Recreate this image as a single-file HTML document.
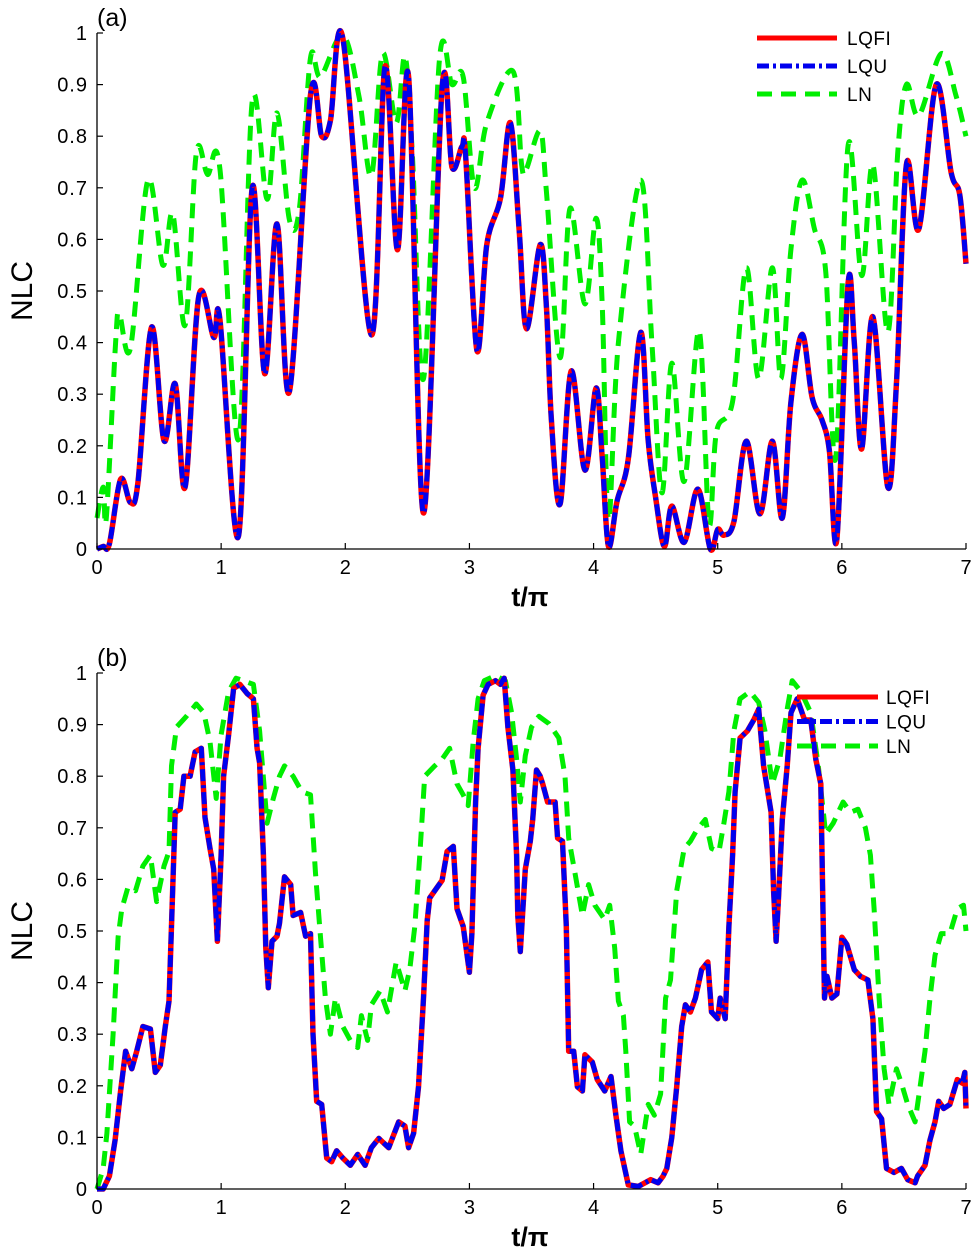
<!DOCTYPE html>
<html><head><meta charset="utf-8">
<style>
body{margin:0;background:#fff;}
svg{display:block;font-family:"Liberation Sans",Arial,sans-serif;}
</style></head>
<body>
<svg id="fig" width="974" height="1257" viewBox="0 0 974 1257" xmlns="http://www.w3.org/2000/svg"></svg>
<script>
// ---- Panel (a) data ----
const tA_q = [0,0.05,0.1,0.19,0.27,0.33,0.44,0.54,0.63,0.71,0.82,0.94,0.99,1.14,1.25,1.35,1.45,1.55,1.72,1.81,1.88,1.98,2.21,2.32,2.42,2.51,2.63,2.78,2.86,2.94,2.97,3.06,3.14,3.25,3.33,3.40,3.46,3.57,3.62,3.66,3.73,3.82,3.93,4.02,4.07,4.12,4.19,4.28,4.38,4.44,4.50,4.57,4.63,4.73,4.84,4.94,5.0,5.05,5.13,5.23,5.34,5.44,5.52,5.59,5.68,5.76,5.84,5.90,5.96,6.05,6.10,6.16,6.25,6.37,6.44,6.52,6.62,6.76,6.88,6.95,7.0];
const lqfiA = [0,0.005,0.01,0.135,0.09,0.13,0.43,0.21,0.32,0.12,0.49,0.41,0.445,0.025,0.70,0.34,0.63,0.305,0.88,0.80,0.83,0.99,0.415,0.935,0.58,0.915,0.07,0.895,0.74,0.78,0.76,0.385,0.59,0.68,0.826,0.62,0.427,0.59,0.47,0.25,0.087,0.345,0.153,0.312,0.175,0.005,0.094,0.175,0.42,0.21,0.10,0.005,0.083,0.013,0.116,0.0,0.038,0.027,0.053,0.209,0.068,0.209,0.06,0.286,0.416,0.294,0.25,0.19,0.02,0.515,0.40,0.194,0.45,0.12,0.323,0.745,0.62,0.90,0.73,0.686,0.553];
const tA_n = [0,0.05,0.075,0.15,0.18,0.27,0.41,0.53,0.61,0.71,0.80,0.89,0.99,1.14,1.25,1.37,1.45,1.55,1.63,1.72,1.80,1.98,2.11,2.21,2.30,2.41,2.48,2.54,2.63,2.76,2.86,2.95,3.04,3.14,3.35,3.42,3.46,3.57,3.62,3.73,3.81,3.93,4.02,4.07,4.12,4.20,4.38,4.47,4.55,4.63,4.73,4.85,4.93,4.99,5.12,5.23,5.33,5.44,5.51,5.59,5.68,5.78,5.87,5.95,6.05,6.16,6.25,6.37,6.45,6.52,6.62,6.80,6.92,7.0];
const lnA = [0.06,0.12,0.06,0.40,0.456,0.39,0.715,0.55,0.65,0.434,0.767,0.726,0.737,0.212,0.867,0.678,0.845,0.638,0.66,0.952,0.915,0.996,0.878,0.723,0.96,0.826,0.955,0.767,0.33,0.952,0.90,0.915,0.70,0.826,0.926,0.745,0.737,0.81,0.693,0.371,0.66,0.475,0.641,0.47,0.057,0.40,0.715,0.40,0.109,0.36,0.131,0.423,0.05,0.227,0.286,0.545,0.33,0.545,0.33,0.582,0.715,0.62,0.538,0.175,0.782,0.53,0.745,0.42,0.767,0.90,0.84,0.96,0.878,0.80];
// ---- Panel (b) data ----
const tB_q = [0,0.05,0.10,0.146,0.19,0.23,0.28,0.32,0.37,0.43,0.47,0.51,0.55,0.58,0.60,0.63,0.67,0.70,0.75,0.79,0.84,0.87,0.91,0.94,0.97,1.00,1.02,1.06,1.10,1.15,1.21,1.26,1.29,1.31,1.34,1.36,1.38,1.41,1.45,1.47,1.51,1.56,1.58,1.64,1.68,1.72,1.74,1.77,1.81,1.85,1.89,1.93,1.98,2.04,2.10,2.16,2.21,2.27,2.35,2.43,2.48,2.51,2.55,2.59,2.63,2.66,2.68,2.72,2.78,2.82,2.87,2.90,2.95,3.00,3.02,3.05,3.07,3.11,3.15,3.21,3.25,3.28,3.31,3.35,3.38,3.39,3.41,3.45,3.49,3.51,3.54,3.57,3.59,3.63,3.69,3.71,3.75,3.78,3.80,3.84,3.87,3.91,3.93,3.99,4.03,4.09,4.14,4.18,4.22,4.28,4.36,4.46,4.52,4.56,4.59,4.63,4.67,4.71,4.74,4.78,4.82,4.87,4.92,4.95,5.00,5.02,5.06,5.09,5.12,5.14,5.18,5.24,5.29,5.33,5.37,5.43,5.45,5.47,5.49,5.52,5.56,5.59,5.64,5.70,5.75,5.79,5.83,5.86,5.88,5.92,5.96,6.00,6.04,6.10,6.15,6.21,6.25,6.28,6.32,6.36,6.42,6.48,6.53,6.59,6.61,6.67,6.71,6.75,6.78,6.82,6.87,6.93,6.97,6.99,7.0];
const lqfiB = [0,0,0.025,0.095,0.19,0.267,0.233,0.267,0.315,0.31,0.226,0.24,0.315,0.364,0.51,0.73,0.736,0.80,0.80,0.847,0.854,0.72,0.66,0.62,0.48,0.647,0.80,0.88,0.97,0.978,0.96,0.95,0.854,0.826,0.647,0.467,0.39,0.48,0.49,0.515,0.605,0.59,0.53,0.536,0.49,0.495,0.30,0.17,0.164,0.06,0.053,0.074,0.06,0.046,0.067,0.046,0.08,0.098,0.08,0.13,0.122,0.08,0.108,0.198,0.37,0.52,0.564,0.578,0.598,0.654,0.664,0.543,0.509,0.42,0.495,0.75,0.854,0.957,0.978,0.985,0.978,0.99,0.895,0.812,0.647,0.53,0.46,0.62,0.674,0.716,0.812,0.80,0.785,0.75,0.75,0.68,0.674,0.509,0.267,0.267,0.198,0.19,0.26,0.246,0.212,0.19,0.218,0.143,0.074,0.008,0.005,0.018,0.012,0.025,0.04,0.10,0.198,0.315,0.357,0.343,0.37,0.425,0.44,0.343,0.33,0.37,0.33,0.509,0.647,0.77,0.874,0.888,0.909,0.93,0.82,0.73,0.578,0.48,0.564,0.716,0.82,0.923,0.95,0.909,0.909,0.833,0.785,0.37,0.412,0.37,0.378,0.488,0.474,0.425,0.412,0.405,0.33,0.15,0.136,0.04,0.032,0.04,0.018,0.012,0.025,0.046,0.095,0.13,0.17,0.156,0.164,0.212,0.205,0.226,0.156];
const tB_n = [0,0.05,0.08,0.13,0.17,0.20,0.25,0.31,0.37,0.43,0.48,0.54,0.58,0.60,0.64,0.72,0.80,0.86,0.91,0.96,1.00,1.06,1.12,1.18,1.26,1.31,1.37,1.42,1.47,1.51,1.58,1.65,1.72,1.76,1.80,1.84,1.88,1.92,1.98,2.04,2.10,2.13,2.18,2.21,2.28,2.34,2.41,2.48,2.52,2.56,2.60,2.64,2.72,2.78,2.84,2.90,2.95,2.99,3.03,3.07,3.12,3.21,3.29,3.34,3.38,3.41,3.45,3.50,3.56,3.64,3.72,3.77,3.80,3.85,3.91,3.96,4.01,4.09,4.13,4.17,4.20,4.24,4.26,4.29,4.33,4.38,4.44,4.49,4.54,4.58,4.62,4.67,4.73,4.78,4.83,4.90,4.95,5.01,5.05,5.09,5.13,5.18,5.26,5.33,5.38,5.44,5.50,5.56,5.60,5.67,5.75,5.81,5.87,5.93,6.01,6.07,6.13,6.19,6.23,6.26,6.30,6.34,6.38,6.44,6.48,6.53,6.59,6.63,6.67,6.71,6.75,6.80,6.87,6.93,6.98,7.0];
const lnB = [0,0.04,0.108,0.30,0.488,0.543,0.585,0.578,0.626,0.647,0.557,0.626,0.654,0.82,0.895,0.916,0.94,0.923,0.867,0.757,0.88,0.964,0.99,0.985,0.978,0.888,0.709,0.757,0.80,0.82,0.80,0.77,0.764,0.612,0.488,0.37,0.30,0.37,0.315,0.288,0.274,0.336,0.288,0.357,0.384,0.343,0.44,0.384,0.426,0.509,0.647,0.80,0.82,0.833,0.854,0.785,0.764,0.743,0.867,0.95,0.985,0.995,0.985,0.923,0.833,0.75,0.84,0.895,0.916,0.902,0.874,0.80,0.68,0.612,0.53,0.59,0.55,0.522,0.55,0.467,0.364,0.336,0.267,0.13,0.122,0.067,0.164,0.143,0.184,0.37,0.405,0.578,0.66,0.674,0.695,0.716,0.66,0.654,0.709,0.77,0.888,0.95,0.964,0.943,0.888,0.785,0.833,0.93,0.985,0.964,0.923,0.82,0.688,0.709,0.75,0.73,0.736,0.70,0.647,0.543,0.37,0.233,0.164,0.233,0.205,0.164,0.13,0.198,0.267,0.37,0.453,0.495,0.495,0.543,0.55,0.50];
const yTicks = [0,0.1,0.2,0.3,0.4,0.5,0.6,0.7,0.8,0.9,1];
const yTickLabels = ["0","0.1","0.2","0.3","0.4","0.5","0.6","0.7","0.8","0.9","1"];
const xTicks = [0,1,2,3,4,5,6,7];
const seriesNames = ["LQFI","LQU","LN"];

const NS="http://www.w3.org/2000/svg";
const svg=document.getElementById('fig');
function mk(tag,attrs,parent){const e=document.createElementNS(NS,tag);for(const k in attrs)e.setAttribute(k,attrs[k]);(parent||svg).appendChild(e);return e;}
const X0=97,X1=966;
function xs(t){return X0+(t/7)*(X1-X0);}
function smoothPath(ts,vs,ys){
  const p=ts.map((t,i)=>[xs(t),ys(vs[i])]);
  let d='M'+p[0][0].toFixed(1)+','+p[0][1].toFixed(1);
  for(let i=0;i<p.length-1;i++){
    const p0=p[Math.max(0,i-1)],p1=p[i],p2=p[i+1],p3=p[Math.min(p.length-1,i+2)];
    const c1=[p1[0]+(p2[0]-p0[0])/6,p1[1]+(p2[1]-p0[1])/6];
    const c2=[p2[0]-(p3[0]-p1[0])/6,p2[1]-(p3[1]-p1[1])/6];
    d+=' C'+c1[0].toFixed(1)+','+c1[1].toFixed(1)+' '+c2[0].toFixed(1)+','+c2[1].toFixed(1)+' '+p2[0].toFixed(1)+','+p2[1].toFixed(1);
  }
  return d;
}
function linePath(ts,vs,ys){return ts.map((t,i)=>(i?'L':'M')+xs(t).toFixed(1)+','+ys(vs[i]).toFixed(1)).join(' ');}

function panel(id,Y0,Y1,tq,vq,tn,vn,smooth,leg){
  const ys=v=>Y0-v*(Y0-Y1);
  const g=mk('g',{});
  
  
  const pf=smooth?smoothPath:linePath;
  const ln=mk('path',{d:pf(tn,vn,ys),fill:'none',stroke:'#00ee00','stroke-width':5,'stroke-dasharray':'15,9','stroke-linejoin':'round'},g);
  
  
  const q=mk('path',{d:pf(tq,vq,ys),fill:'none',stroke:'#ff0000','stroke-width':5.5,'stroke-linejoin':'round'},g);
  
  
  const u=mk('path',{d:pf(tq,vq,ys),fill:'none',stroke:'#0000ee','stroke-width':5,'stroke-dasharray':'12,4,3,4','stroke-linejoin':'round'},g);
  
  
  const ax=mk('path',{d:`M${X0},${Y1} L${X0},${Y0} L${X1},${Y0}`,fill:'none',stroke:'#000','stroke-width':1.3},g);
  
  
  yTicks.forEach((v,i)=>{
    mk('line',{x1:X0,x2:X0+6,y1:ys(v),y2:ys(v),stroke:'#000','stroke-width':1.2},g);
    const tx=mk('text',{x:88,y:ys(v)+7,'text-anchor':'end','font-size':20,'letter-spacing':'1'},g);
    tx.textContent=yTickLabels[i];
    
    
  });
  xTicks.forEach(t=>{
    mk('line',{x1:xs(t),x2:xs(t),y1:Y0,y2:Y0-6,stroke:'#000','stroke-width':1.2},g);
    const tx=mk('text',{x:xs(t),y:Y0+25,'text-anchor':'middle','font-size':20},g);
    tx.textContent=String(t);
    
    
  });
  const xl=mk('text',{x:530,y:Y0+57,'text-anchor':'middle','font-size':27,'font-weight':'bold'},g);
  xl.textContent='t/π';
  
  
  const yc=(Y0+Y1)/2;
  const yl=mk('text',{x:32,y:yc,'text-anchor':'middle','font-size':30,transform:`rotate(-90 32 ${yc})`},g);
  yl.textContent='NLC';
  
  
  const pl=mk('text',{x:97,y:Y1-7,'font-size':25},g);
  pl.textContent='('+id+')';
  
  
  const lg=mk('g',{},g);
  
  
  const styles=[{stroke:'#ff0000',w:5,da:''},{stroke:'#0000ee',w:5,da:'12,4,3,4'},{stroke:'#00ee00',w:5,da:'15,9'}];
  seriesNames.forEach((n,i)=>{
    const y=leg.y+i*leg.dy;
    const l=mk('line',{x1:leg.x1,x2:leg.x2,y1:y,y2:y,stroke:styles[i].stroke,'stroke-width':styles[i].w,'stroke-dasharray':styles[i].da},lg);
    
    
    const t=mk('text',{x:leg.tx,y:y+7,'font-size':19,'letter-spacing':'0.5'},lg);
    t.textContent=n;
    
    
  });
}
panel('a',549,33,tA_q,lqfiA,tA_n,lnA,true,{x1:757,x2:837,tx:847,y:38,dy:28});
panel('b',1189,673,tB_q,lqfiB,tB_n,lnB,false,{x1:797,x2:878,tx:886,y:697,dy:24.5});
</script>
</body></html>
